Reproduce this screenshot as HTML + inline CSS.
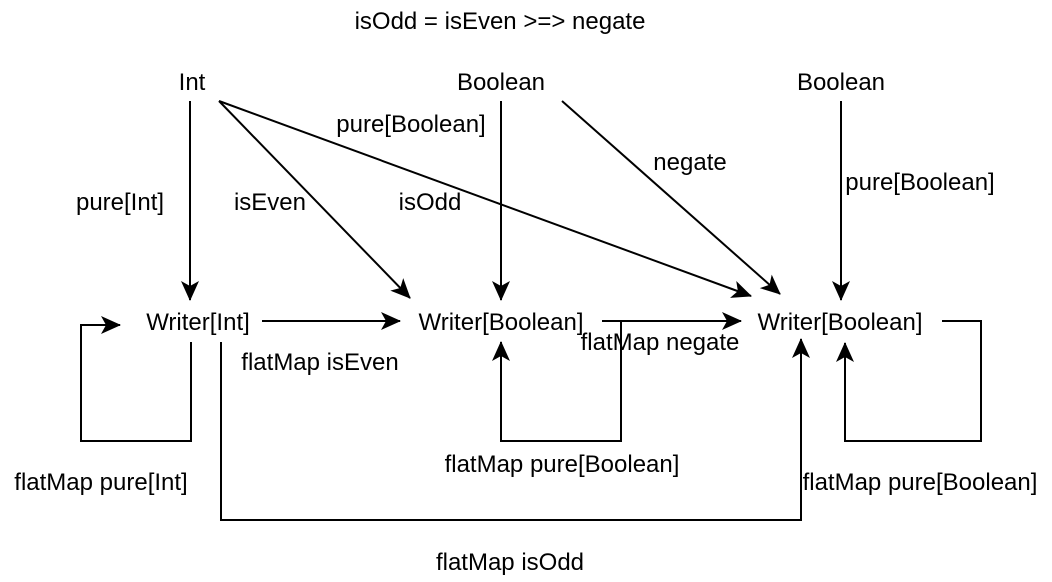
<!DOCTYPE html>
<html><head><meta charset="utf-8"><style>
html,body{margin:0;padding:0;background:#fff;}
svg{display:block;}
text{font-family:"Liberation Sans",Helvetica,Arial,sans-serif;font-size:24px;fill:#000;text-anchor:middle;}
</style></head><body>
<svg width="1052" height="582" viewBox="0 0 1052 582" xmlns="http://www.w3.org/2000/svg">
<defs>
<marker id="b" viewBox="0 0 20 20" refX="19" refY="10" markerWidth="20" markerHeight="20" markerUnits="userSpaceOnUse" orient="auto">
<path d="M0,1 L20,10 L0,19 L5,10 Z" fill="#000"/>
</marker>
</defs>
<g stroke="#000" stroke-width="2" fill="none">
<line x1="190" y1="101" x2="190" y2="300" marker-end="url(#b)"/>
<line x1="219" y1="101" x2="410" y2="298" marker-end="url(#b)"/>
<line x1="219" y1="101" x2="751" y2="296" marker-end="url(#b)"/>
<line x1="501" y1="101" x2="501" y2="300" marker-end="url(#b)"/>
<line x1="562" y1="101" x2="780" y2="294" marker-end="url(#b)"/>
<line x1="841" y1="101" x2="841" y2="300" marker-end="url(#b)"/>
<line x1="262" y1="321" x2="400" y2="321" marker-end="url(#b)"/>
<line x1="602" y1="321" x2="741" y2="321" marker-end="url(#b)"/>
<polyline points="191,342 191,441 81,441 81,325 120,325" marker-end="url(#b)"/>
<polyline points="621,321 621,441 501,441 501,342" marker-end="url(#b)"/>
<polyline points="942,321 981,321 981,441 845,441 845,343" marker-end="url(#b)"/>
<polyline points="221,342 221,520 801,520 801,339" marker-end="url(#b)"/>
</g>
<text x="500" y="29">isOdd = isEven &gt;=&gt; negate</text>
<text x="192" y="90">Int</text>
<text x="501" y="90">Boolean</text>
<text x="841" y="90">Boolean</text>
<text x="198" y="330">Writer[Int]</text>
<text x="501" y="330">Writer[Boolean]</text>
<text x="840" y="330">Writer[Boolean]</text>
<text x="120" y="210">pure[Int]</text>
<text x="270" y="210">isEven</text>
<text x="430" y="210">isOdd</text>
<text x="411" y="132">pure[Boolean]</text>
<text x="690" y="170">negate</text>
<text x="920" y="190">pure[Boolean]</text>
<text x="320" y="370">flatMap isEven</text>
<text x="660" y="350">flatMap negate</text>
<text x="101" y="490">flatMap pure[Int]</text>
<text x="562" y="472">flatMap pure[Boolean]</text>
<text x="920" y="490">flatMap pure[Boolean]</text>
<text x="510" y="570">flatMap isOdd</text>
</svg>
</body></html>
